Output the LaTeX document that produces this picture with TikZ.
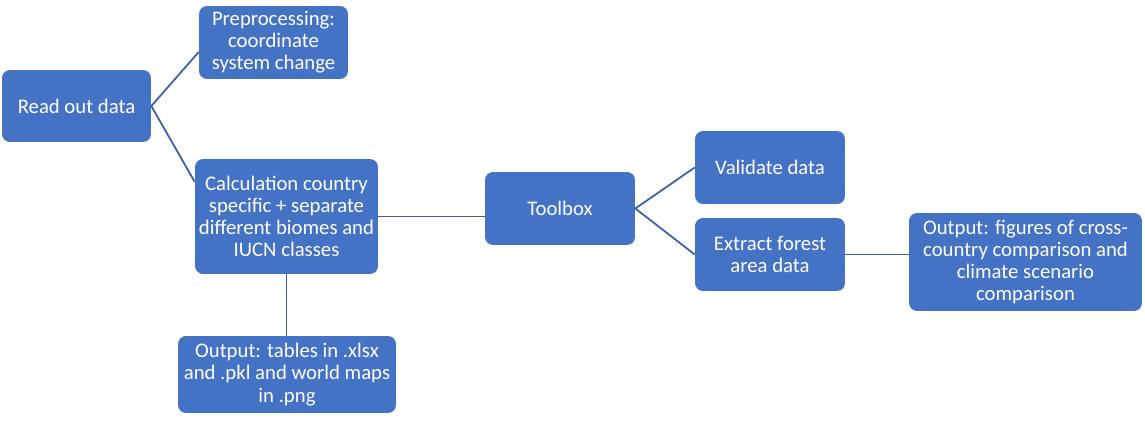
\documentclass[tikz,border=0pt]{standalone}
\usepackage{fontspec}
\setmainfont{Carlito}
\usetikzlibrary{positioning,calc}
\definecolor{boxblue}{HTML}{4472C4}
\definecolor{linkblue}{HTML}{3A5FA8}
\begin{document}
\begin{tikzpicture} [x=0.02cm, y=-0.02cm, box/.style={fill=boxblue,
            text=white, rounded corners=0.16cm, align=center, inner
            sep=0, font=\fontsize{11.8pt}{12.6pt}\selectfont},
          link/.style={draw=linkblue, line width=1pt}]
          \useasboundingbox (0,0) rectangle (1145,422);
          \node[box, minimum width=2.98cm, minimum height=1.44cm] (read) at (76.5,106) {Read out data};
          \node[box, minimum width=2.98cm, minimum height=1.46cm] (pre) at (273.5,42.5) {Preprocessing:\\coordinate\\system change};
          \node[box, minimum width=3.66cm, minimum height=2.3cm] (calc) at (286.5,216.5) {Calculation country\\specific + separate\\different biomes and\\IUCN classes};
          \node[box, minimum width=4.36cm, minimum height=1.54cm] (tables) at (287,374.5) {Output: tables in .xlsx\\and .pkl and world maps\\in .png};
          \node[box, minimum width=3cm, minimum height=1.46cm] (toolbox) at (560,208.5) {Toolbox};
          \node[box, minimum width=3cm, minimum height=1.46cm] (validate) at (770,167.5) {Validate data};
          \node[box, minimum width=3cm, minimum height=1.46cm] (extract) at (770,254.5) {Extract forest\\area data};
          \node[box, minimum width=4.66cm, minimum height=1.96cm] (figures) at (1025.5,262) {Output: figures of cross-\\country comparison and\\climate scenario\\comparison};
          \draw[link] ($(pre.west)!0.26!(pre.south west)$) -- (read.east) -- ($(calc.west)!0.6!(calc.north west)$);
          \draw[link] (calc.south) -- (calc.south |- tables.north);
          \draw[link] (calc.east) -- (calc.east -| toolbox.west);
          \draw[link] (validate.west) -- (toolbox.east) -- (extract.west);
          \draw[link] (extract.east) -- (extract.east -| figures.west);
        \end{tikzpicture}
\end{document}
